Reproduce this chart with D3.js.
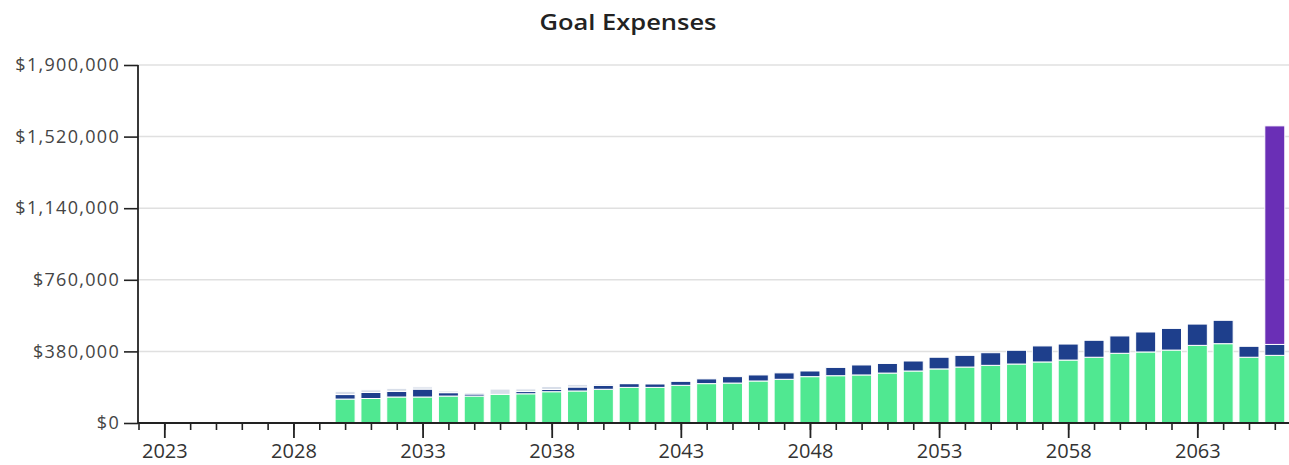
<!DOCTYPE html>
<html>
<head>
<meta charset="utf-8">
<script src="https://cdn.jsdelivr.net/npm/d3@7/dist/d3.min.js"></script>
<style>
  html, body { margin: 0; padding: 0; background: #fff; }
  svg { display: block; font-family: "Open Sans", "Noto Sans", sans-serif; }
</style>
</head>
<body>
<svg id="chart" width="1289" height="465"></svg>
<script>
// Years shown on the axis
const years = d3.range(2022, 2067);

// Annual goal expenses in dollars, one value per year (2022–2066)
const livingExpenses = [
  0, 0, 0, 0, 0, 0, 0, 0,
  127000, 130000, 138000, 138000, 143000, 143000, 152000, 155000, 166000, 170000,
  179000, 189000, 189000, 200000, 209000, 212000, 223000, 232000, 246000, 251000,
  255000, 265000, 276000, 287000, 297000, 306000, 313000, 324000, 334000, 349000,
  370000, 377000, 387000, 412000, 421000, 349000, 359000
];
const healthCare = [
  0, 0, 0, 0, 0, 0, 0, 0,
  24000, 32000, 30000, 42000, 18000, 11000, 0, 12000, 12000, 21000,
  21000, 20000, 18000, 21000, 25000, 34000, 32000, 34000, 30000, 44000,
  53000, 51000, 53000, 62000, 62000, 67000, 73000, 85000, 85000, 90000,
  92000, 106000, 115000, 113000, 124000, 58000, 58000
];
const otherGoals = [
  0, 0, 0, 0, 0, 0, 0, 6000,
  17000, 14000, 16000, 12000, 9000, 8000, 28000, 14000, 16000, 14000,
  7000, 3000, 0, 0, 0, 0, 0, 0, 0, 0,
  0, 0, 0, 0, 0, 0, 0, 0, 0, 0,
  0, 0, 0, 0, 0, 0, 0
];
const legacyGoal = [
  0, 0, 0, 0, 0, 0, 0, 0,
  0, 0, 0, 0, 0, 0, 0, 0, 0, 0,
  0, 0, 0, 0, 0, 0, 0, 0, 0, 0,
  0, 0, 0, 0, 0, 0, 0, 0, 0, 0,
  0, 0, 0, 0, 0, 0, 1160000
];

const yTickValues = [0, 380000, 760000, 1140000, 1520000, 1900000];
const xMajorTicks = d3.range(2023, 2064, 5);
const xMinorTicks = d3.range(2022, 2067);

const seriesKeys = ["living", "health", "other", "legacy"];
const seriesColors = {
  living: "#50e891",
  health: "#1e3f8c",
  other: "#d8dee9",
  legacy: "#6a2fb6"
};

const table = years.map((year, i) => ({
  year,
  living: livingExpenses[i],
  health: healthCare[i],
  other: otherGoals[i],
  legacy: legacyGoal[i]
}));

const svg = d3.select("#chart");
const plot = { left: 138, right: 1289, top: 65, bottom: 423 };

const x = d3.scaleLinear().domain([2022, 2066.55]).range([plot.left + 0.5, plot.right]);
const y = d3.scaleLinear().domain([0, 1900000]).range([plot.bottom, plot.top]);
const barWidth = 20;

// Title
svg.append("text")
  .attr("x", 628).attr("y", 30)
  .attr("text-anchor", "middle")
  .attr("font-size", 21).attr("font-weight", 600).attr("fill", "#222")
  .attr("textLength", 177).attr("lengthAdjust", "spacingAndGlyphs")
  .text("Goal Expenses");

// Horizontal gridlines
svg.append("g")
  .selectAll("line")
  .data(yTickValues.filter(v => v > 0))
  .join("line")
  .attr("x1", plot.left).attr("x2", plot.right)
  .attr("y1", d => y(d)).attr("y2", d => y(d))
  .attr("stroke", "#e0e0e0").attr("stroke-width", 1.5);

// Stacked bars
const stacked = d3.stack().keys(seriesKeys)(table);
svg.append("g")
  .selectAll("g")
  .data(stacked)
  .join("g")
  .attr("fill", d => seriesColors[d.key])
  .selectAll("rect")
  .data(d => d.filter(p => p[1] - p[0] > 0))
  .join("rect")
  .attr("x", d => x(d.data.year) - barWidth / 2)
  .attr("width", barWidth)
  .attr("y", d => y(d[1]))
  .attr("height", d => y(d[0]) - y(d[1]))
  .attr("stroke", "#fff").attr("stroke-width", 1);

// Y axis
const yAxis = svg.append("g")
  .attr("transform", `translate(${plot.left},0)`)
  .call(d3.axisLeft(y).tickValues(yTickValues).tickSize(14).tickPadding(4)
    .tickFormat(d => "$" + d3.format(",")(d)));
yAxis.select(".domain").remove();
yAxis.selectAll(".tick line").attr("stroke", "#222").attr("stroke-width", 1.6);
yAxis.selectAll(".tick text").attr("font-size", 18).attr("fill", "#444")
  .attr("letter-spacing", 1.3)
  .attr("font-family", "'Open Sans', sans-serif");
svg.append("line")
  .attr("x1", plot.left).attr("x2", plot.left)
  .attr("y1", plot.top).attr("y2", plot.bottom)
  .attr("stroke", "#222").attr("stroke-width", 1.8);

// X axis: minor yearly ticks, major ticks every five years
const xAxisG = svg.append("g").attr("transform", `translate(0,${plot.bottom})`);
xAxisG.call(d3.axisBottom(x).tickValues(xMinorTicks).tickSize(7).tickFormat(""));
xAxisG.select(".domain").remove();
xAxisG.selectAll(".tick line").attr("stroke", "#222").attr("stroke-width", 1.6);

const xMajor = svg.append("g").attr("transform", `translate(0,${plot.bottom})`)
  .call(d3.axisBottom(x).tickValues(xMajorTicks).tickSize(15).tickPadding(6)
    .tickFormat(d3.format("d")));
xMajor.select(".domain").remove();
xMajor.selectAll(".tick line").attr("stroke", "#222").attr("stroke-width", 1.8);
xMajor.selectAll(".tick text").attr("font-size", 20).attr("fill", "#333")
  .attr("font-family", "'Open Sans', sans-serif");

svg.append("line")
  .attr("x1", plot.left).attr("x2", plot.right)
  .attr("y1", plot.bottom).attr("y2", plot.bottom)
  .attr("stroke", "#222").attr("stroke-width", 1.8);
</script>
</body>
</html>
